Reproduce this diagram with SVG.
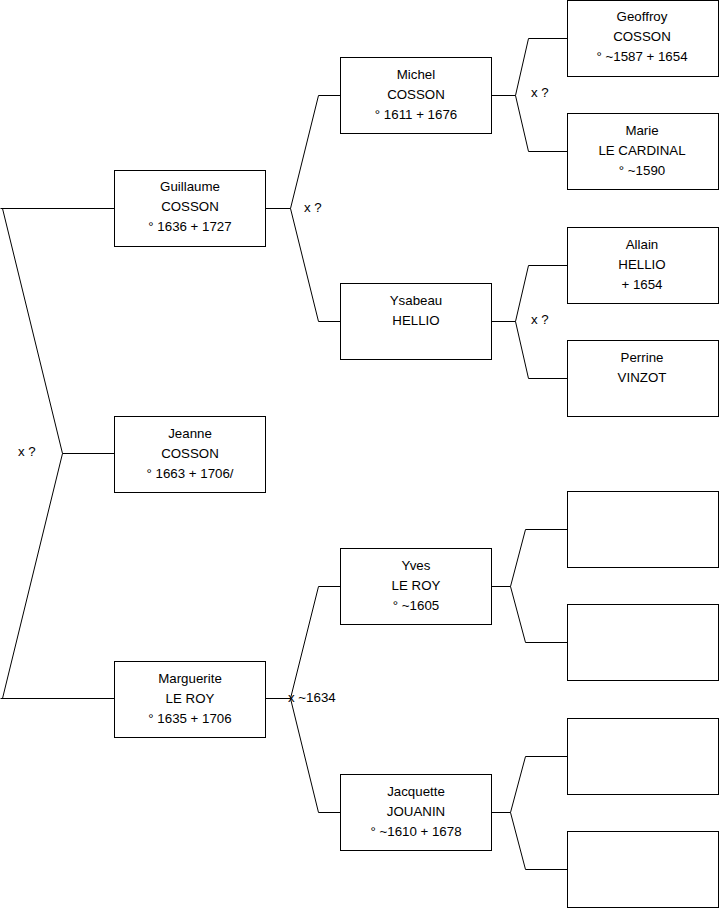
<svg xmlns="http://www.w3.org/2000/svg" width="719" height="908" viewBox="0 0 719 908">
<style>
.box{fill:#fff;stroke:#000;stroke-width:1}
.ln{fill:none;stroke:#000;stroke-width:1}
text{font-family:"Liberation Sans",Arial,sans-serif;font-size:13.3px;fill:#000}
.c{text-anchor:middle}
</style>
<rect width="719" height="908" fill="#fff"/>
<g id="connectors">
<path class="ln" d="M0.5,208.5H114.5M2.5,208.5L62.5,453.5L2.5,698.5M62.5,453.5H114.5M0.5,698.5H114.5"/>
<path class="ln" d="M265.5,208.5H290.5M318.5,95.5L290.5,208.5L318.5,321.5M318.5,95.5H340.5M318.5,321.5H340.5"/>
<path class="ln" d="M265.5,698.5H290.5M318.5,586.5L290.5,698.5L318.5,812.5M318.5,586.5H340.5M318.5,812.5H340.5"/>
<path class="ln" d="M491.5,95.5H515.5M528.5,38.5L515.5,95.5L528.5,151.5M528.5,38.5H567.5M528.5,151.5H567.5"/>
<path class="ln" d="M491.5,321.5H515.5M528.5,265.5L515.5,321.5L528.5,378.5M528.5,265.5H567.5M528.5,378.5H567.5"/>
<path class="ln" d="M491.5,586.5H510.5M525.5,529.5L510.5,586.5L525.5,642.5M525.5,529.5H567.5M525.5,642.5H567.5"/>
<path class="ln" d="M491.5,812.5H510.5M525.5,756.5L510.5,812.5L525.5,869.5M525.5,756.5H567.5M525.5,869.5H567.5"/>
<text x="18" y="456">x ?</text>
<text x="304" y="212">x ?</text>
<text x="531" y="97">x ?</text>
<text x="531" y="324">x ?</text>
<text x="288" y="702">x ~1634</text>
</g>
<g id="guillaume"><rect class="box" x="114.5" y="170.5" width="151" height="76"/><text class="c" x="190" y="191">Guillaume</text><text class="c" x="190" y="211">COSSON</text><text class="c" x="190" y="231">° 1636 + 1727</text></g>
<g id="jeanne"><rect class="box" x="114.5" y="416.5" width="151" height="76"/><text class="c" x="190" y="438">Jeanne</text><text class="c" x="190" y="458">COSSON</text><text class="c" x="190" y="478">° 1663 + 1706/</text></g>
<g id="marguerite"><rect class="box" x="114.5" y="661.5" width="151" height="76"/><text class="c" x="190" y="683">Marguerite</text><text class="c" x="190" y="703">LE ROY</text><text class="c" x="190" y="723">° 1635 + 1706</text></g>
<g id="michel"><rect class="box" x="340.5" y="57.5" width="151" height="76"/><text class="c" x="416" y="79">Michel</text><text class="c" x="416" y="99">COSSON</text><text class="c" x="416" y="119">° 1611 + 1676</text></g>
<g id="ysabeau"><rect class="box" x="340.5" y="283.5" width="151" height="76"/><text class="c" x="416" y="305">Ysabeau</text><text class="c" x="416" y="325">HELLIO</text></g>
<g id="yves"><rect class="box" x="340.5" y="548.5" width="151" height="76"/><text class="c" x="416" y="570">Yves</text><text class="c" x="416" y="590">LE ROY</text><text class="c" x="416" y="610">° ~1605</text></g>
<g id="jacquette"><rect class="box" x="340.5" y="774.5" width="151" height="76"/><text class="c" x="416" y="796">Jacquette</text><text class="c" x="416" y="816">JOUANIN</text><text class="c" x="416" y="836">° ~1610 + 1678</text></g>
<g id="geoffroy"><rect class="box" x="567.5" y="0.5" width="151" height="76"/><text class="c" x="642" y="21">Geoffroy</text><text class="c" x="642" y="41">COSSON</text><text class="c" x="642" y="61">° ~1587 + 1654</text></g>
<g id="marie"><rect class="box" x="567.5" y="113.5" width="151" height="76"/><text class="c" x="642" y="135">Marie</text><text class="c" x="642" y="155">LE CARDINAL</text><text class="c" x="642" y="175">° ~1590</text></g>
<g id="allain"><rect class="box" x="567.5" y="227.5" width="151" height="76"/><text class="c" x="642" y="249">Allain</text><text class="c" x="642" y="269">HELLIO</text><text class="c" x="642" y="289">+ 1654</text></g>
<g id="perrine"><rect class="box" x="567.5" y="340.5" width="151" height="76"/><text class="c" x="642" y="362">Perrine</text><text class="c" x="642" y="382">VINZOT</text></g>
<g id="empty1"><rect class="box" x="567.5" y="491.5" width="151" height="76"/></g>
<g id="empty2"><rect class="box" x="567.5" y="604.5" width="151" height="76"/></g>
<g id="empty3"><rect class="box" x="567.5" y="718.5" width="151" height="76"/></g>
<g id="empty4"><rect class="box" x="567.5" y="831.5" width="151" height="76"/></g>
</svg>
